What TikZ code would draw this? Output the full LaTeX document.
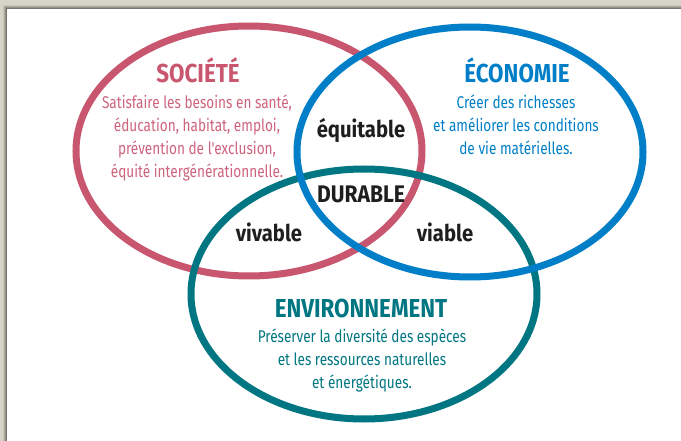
\documentclass[tikz,border=0pt]{standalone}
\usepackage{fontspec}
\usetikzlibrary{shapes.geometric}
\newfontfamily\bodyfont{Fira Sans}[FakeStretch=0.8]
\newfontfamily\titlefont{Fira Sans}[FakeStretch=0.86]
\newfontfamily\tagfont{Fira Sans}[FakeStretch=0.88]
\definecolor{rose}{RGB}{200,86,110}
\definecolor{roselight}{RGB}{206,100,124}
\definecolor{sky}{RGB}{0,127,200}
\definecolor{teal}{RGB}{0,118,130}
\definecolor{frame}{RGB}{214,214,200}
\definecolor{ink}{RGB}{30,30,30}
\begin{document}
\begin{tikzpicture}[x=1pt,y=-1pt,
  ring/.style={ellipse,draw,line width=7pt,minimum width=346pt,minimum height=250pt,inner sep=0pt},
  title/.style={font=\titlefont\bfseries\fontsize{26}{28}\selectfont,anchor=base,inner sep=0pt},
  body/.style={font=\bodyfont\fontsize{17}{23}\selectfont,align=center,anchor=base,inner sep=0pt},
  tag/.style={font=\tagfont\bfseries\fontsize{23}{25}\selectfont,text=ink,anchor=base,inner sep=0pt}]
  \useasboundingbox (0,0) rectangle (681,441);
  % page frame with soft shadow
  \fill[frame] (0,0) rectangle (681,441);
  \foreach \d/\o in {4/0.08,3/0.12,2/0.16,1/0.2}
    \fill[black,opacity=\o] (7-\d,9-\d) rectangle (681,441);
  \fill[white] (7,9) rectangle (681,441);
  % circles
  \node[ring,draw=rose] (soc) at (249,151) {};
  \node[ring,draw=teal] (env) at (364,294) {};
  \node[ring,draw=sky] (eco) at (470,152) {};
  % Société (body anchored on its last baseline)
  \node[title,text=rose] (soct) at (198,83) {SOCIÉTÉ};
  \node[body,text=roselight] (socb) at (197,178) {Satisfaire les besoins en santé,\\éducation, habitat, emploi,\\prévention de l'exclusion,\\équité intergénérationnelle.};
  % Économie
  \node[title,text=sky] (ecot) at (517,83) {ÉCONOMIE};
  \node[body,text=sky] (ecob) at (516,155) {Créer des richesses\\et améliorer les conditions\\de vie matérielles.};
  % Environnement
  \node[title,text=teal] (envt) at (361,317) {ENVIRONNEMENT};
  \node[body,text=teal] (envb) at (362,388) {Préserver la diversité des espèces\\et les ressources naturelles\\et énergétiques.};
  % intersections
  \node[tag] (equ) at (361,138) {équitable};
  \node[tag,font=\tagfont\bfseries\fontsize{24}{26}\selectfont] (dur) at (361,203) {DURABLE};
  \node[tag] (viv) at (269,242) {vivable};
  \node[tag] (via) at (445,242) {viable};
\end{tikzpicture}
\end{document}
